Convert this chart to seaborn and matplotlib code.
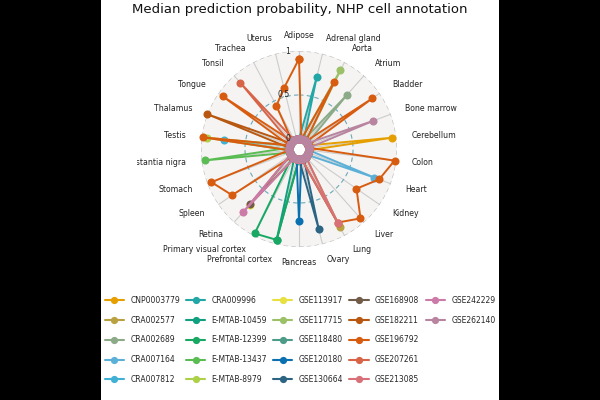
import numpy as np
import pandas as pd
import matplotlib
matplotlib.use("Agg")
import matplotlib.pyplot as plt
from matplotlib.patches import Rectangle
from matplotlib.lines import Line2D
from matplotlib.transforms import Bbox, TransformedBbox
import seaborn as sns

tissues = ["Adipose", "Adrenal gland", "Aorta", "Atrium", "Bladder", "Bone marrow",
           "Cerebellum", "Colon", "Heart", "Kidney", "Liver", "Lung", "Ovary",
           "Pancreas", "Prefrontal cortex", "Primary visual cortex", "Retina",
           "Spleen", "Stomach", "Substantia nigra", "Testis", "Thalamus",
           "Tongue", "Tonsil", "Trachea", "Uterus"]

datasets = ["CNP0003779", "CRA002577", "CRA002689", "CRA007164", "CRA007812",
            "CRA009996", "E-MTAB-10459", "E-MTAB-12399", "E-MTAB-13437", "E-MTAB-8979",
            "GSE113917", "GSE117715", "GSE118480", "GSE120180", "GSE130664",
            "GSE168908", "GSE182211", "GSE196792", "GSE207261", "GSE213085",
            "GSE242229", "GSE262140"]

colors = ["#e69f00", "#b9a040", "#8caa88", "#5cb0d8", "#40b0d4",
          "#22a6a6", "#10a080", "#18a864", "#5cbc54", "#acd048",
          "#e6e040", "#9cc068", "#4c9c88", "#0a70b0", "#2c6484",
          "#705c48", "#b85810", "#d85c10", "#d86448", "#d87078",
          "#cc7aa8", "#b884a0"]

# observed (non-zero) median probabilities
obs_dataset = ["GSE196792"] * 14 + [
    "CNP0003779", "CRA002577", "CRA002689", "CRA007164", "CRA007812", "CRA009996",
    "E-MTAB-10459", "E-MTAB-12399", "E-MTAB-12399", "E-MTAB-13437", "E-MTAB-8979",
    "GSE113917", "GSE117715", "GSE120180", "GSE130664", "GSE168908", "GSE182211",
    "GSE207261", "GSE213085", "GSE242229", "GSE262140"]
obs_tissue = ["Adipose", "Aorta", "Bladder", "Colon", "Heart", "Kidney", "Liver",
              "Lung", "Spleen", "Stomach", "Testis", "Tongue", "Trachea", "Uterus",
              "Cerebellum", "Lung", "Atrium", "Heart", "Testis", "Adrenal gland",
              "Prefrontal cortex", "Prefrontal cortex", "Primary visual cortex",
              "Substantia nigra", "Testis", "Retina", "Aorta", "Pancreas", "Ovary",
              "Retina", "Thalamus", "Tonsil", "Lung", "Retina", "Bone marrow"]
obs_value = [0.91, 0.74, 0.90, 0.98, 0.86, 0.68, 0.94, 0.83, 0.81, 0.95, 0.99, 0.94, 0.44, 0.60,
             0.95, 0.89, 0.71, 0.80, 0.74, 0.73,
             0.95, 0.95, 0.97, 0.96, 0.94,
             0.73, 0.90, 0.71, 0.82, 0.72, 1.00,
             0.89, 0.83, 0.84, 0.79]

r_ticks = [0, 0.5, 1]
r_tick_labels = ["0", "0.5", "1"]

# ---- build full table (0 where a dataset has no value) ----
obs = pd.DataFrame({"dataset": obs_dataset, "tissue": obs_tissue, "value": obs_value})
wide = (obs.pivot_table(index="tissue", columns="dataset", values="value")
        .reindex(index=tissues, columns=datasets).fillna(0.0))
n = len(tissues)
theta = np.linspace(0, 2 * np.pi, n, endpoint=False)
long = wide.copy()
long["theta"] = theta
closing = long.iloc[[0]].copy()
closing["theta"] = 2 * np.pi
long = pd.concat([long, closing]).melt(id_vars="theta", var_name="dataset", value_name="value")

sns.set_theme(style="white")
plt.rcParams["font.family"] = ["DejaVu Sans"]

fig = plt.figure(figsize=(6, 4), dpi=100, facecolor="black")
fig.add_artist(Rectangle((101 / 600, 0), 398 / 600, 1, transform=fig.transFigure,
                         facecolor="white", edgecolor="none", zorder=-5))

ax = fig.add_axes([0.335, 0.3825, 0.3267, 0.49], projection="polar")
ax.set_theta_zero_location("N")
ax.set_theta_direction(-1)
ax.set_facecolor("#f5f4f2")
ax.set_axisbelow(True)

palette = dict(zip(datasets, colors))
sns.lineplot(data=long, x="theta", y="value", hue="dataset", hue_order=datasets,
             palette=palette, marker="o", markersize=5.8, markeredgewidth=0,
             linewidth=1.4, estimator=None, errorbar=None, sort=True,
             legend=False, ax=ax, clip_on=False)

ax.set_ylim(0, 1)
ax.set_rorigin(-0.114)
ax.set_xlabel("")
ax.set_ylabel("")
for sp in ax.spines.values():
    sp.set_visible(False)
    sp.set_linewidth(0)
    sp.set_edgecolor("none")

ax.set_xticks(theta)
ax.set_xticklabels([])
ax.xaxis.grid(True, color="#cccccc", linewidth=0.8, linestyle="-")
ax.set_yticks(r_ticks)
ax.set_yticklabels([])
ax.yaxis.grid(True, color="#bbbbbb", linewidth=0.8, linestyle=(0, (4, 3)))
ax.yaxis.get_gridlines()[1].set_color("#6aaab8")
ax.tick_params(axis="both", length=0)

# tissue labels
clip = TransformedBbox(Bbox([[137 / 600, 0], [499 / 600, 1]]), fig.transFigure)
for t, name in zip(theta, tissues):
    s = np.sin(t)
    ha = "center" if abs(s) < 0.1 else ("left" if s > 0 else "right")
    txt = ax.text(t, 1.18, name, ha=ha, va="center", fontsize=5.6, color="#222222")
    txt.set_clip_on(True)
    txt.set_clip_box(clip)
    txt.set_clip_path(None)

# radial labels
for v, lab in zip(r_ticks, r_tick_labels):
    ax.annotate(lab, xy=(0, v), xytext=(-6.5, 0), textcoords="offset points",
                ha="right", va="center", fontsize=5.6, color="#222222",
                zorder=20, annotation_clip=False)

fig.suptitle("Median prediction probability, NHP cell annotation",
             x=0.5, y=1 - 9.5 / 400, va="center", fontsize=9.5, color="#111111")

handles = [Line2D([0], [0], color=c, lw=1.5, marker="o", markersize=5.2,
                  markeredgewidth=0) for c in colors]
labels = list(datasets)
# pad so that matplotlib fills five full columns like the reference
while len(handles) % 5:
    handles.append(Line2D([], [], linestyle="none", marker=None))
    labels.append("")
fig.legend(handles, labels, ncol=5, loc="center", bbox_to_anchor=(0.5, 1 - 340 / 400),
           frameon=False, fontsize=5.5, handlelength=2.5, handletextpad=0.85,
           columnspacing=0.8, labelspacing=1.4, borderaxespad=0, borderpad=0)

# side padding that clips anything outside the white area
fig.add_artist(Rectangle((0, 0), 101 / 600, 1, transform=fig.transFigure,
                         facecolor="black", edgecolor="none", zorder=50))
fig.add_artist(Rectangle((499 / 600, 0), 101 / 600, 1, transform=fig.transFigure,
                         facecolor="black", edgecolor="none", zorder=50))

fig.savefig("out.png", dpi=100, facecolor="black")
